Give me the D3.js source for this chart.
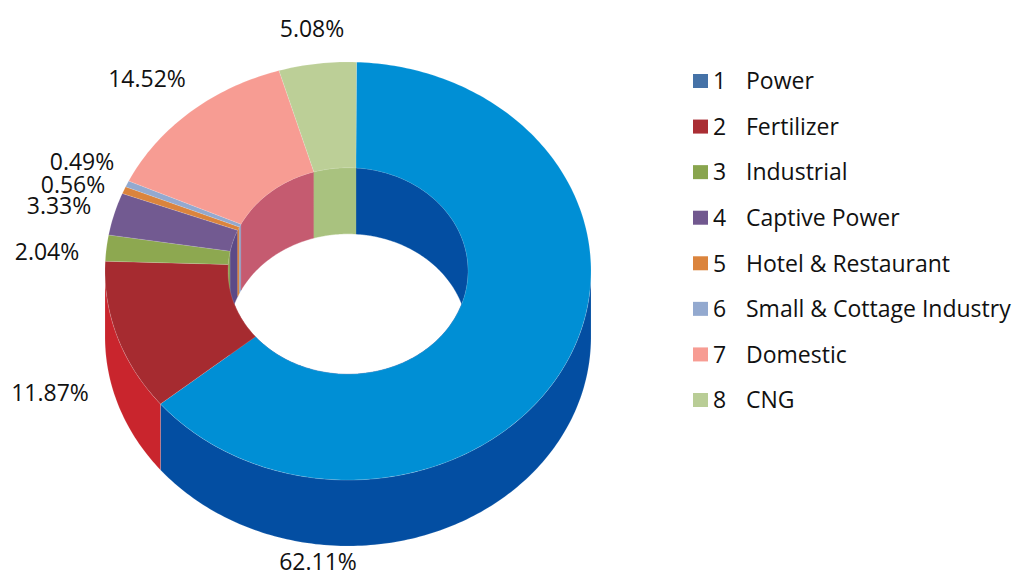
<!DOCTYPE html>
<html>
<head>
<meta charset="utf-8">
<script src="https://cdn.jsdelivr.net/npm/d3@7"></script>
<style>
  html, body { margin: 0; background: #fff; }
  text { font-family: "Open Sans", sans-serif; fill: #111; }
  .face { stroke: #fff; stroke-opacity: 0.25; stroke-width: 0.5; }
</style>
</head>
<body>
<div id="chart"></div>
<script>
const categories = ["Power", "Fertilizer", "Industrial", "Captive Power", "Hotel & Restaurant", "Small & Cottage Industry", "Domestic", "CNG"];
const shares = [62.11, 11.87, 2.04, 3.33, 0.56, 0.49, 14.52, 5.08];
const shareLabels = ["62.11%", "11.87%", "2.04%", "3.33%", "0.56%", "0.49%", "14.52%", "5.08%"];

const topColors = ["#008fd5", "#a62b30", "#8da850", "#725a91", "#db843d", "#93a9cf", "#f79c93", "#bccf97"];
const outerWallColors = ["#034ea2", "#c9252d", "#8da850", "#725a91", "#db843d", "#93a9cf", "#f79c93", "#bccf97"];
const innerWallColors = ["#034ea2", "#a62b30", "#8da850", "#5c4a87", "#db843d", "#93a9cf", "#c55b70", "#a9c27f"];
const legendColors = ["#4572a7", "#aa2e34", "#89a54e", "#71588f", "#db843d", "#93a9cf", "#f79c93", "#b9cd96"];

const width = 1014;
const height = 574;
const cx = 348;
const cy = 271;
const rx = 243;
const ry = 209;
const holeRatio = 120 / 243;
const depth = 66;

// label spots were placed by hand, same order as categories
const labelSpots = [[318, 562], [50, 393], [47, 252], [59, 206], [73, 185], [82, 162], [147, 79], [312, 29]];

// the 3d view squeezes the angles, so share -> angle is not quite linear
const knots = [0, 62.11, 80.4, 94.92, 100];
const outerAngle = d3.scaleLinear().domain(knots).range([2, 230.5, 295.5, 343.5, 362]);
const innerAngle = d3.scaleLinear().domain(knots).range([3.8, 230.5, 297, 343.5, 363.8]);

const svg = d3.select("#chart").append("svg")
  .attr("width", width)
  .attr("height", height)
  .style("display", "block");

function project(deg, radius, drop) {
  const t = deg * Math.PI / 180;
  return [cx + radius * rx * Math.sin(t), cy - radius * ry * Math.cos(t) + drop];
}

function arcPoints(a0, a1, radius, drop) {
  const n = Math.max(2, Math.ceil(Math.abs(a1 - a0)));
  return d3.range(n + 1).map((i) => project(a0 + (a1 - a0) * i / n, radius, drop));
}

const line = d3.line();
function closed(points) {
  return line(points) + "Z";
}

const cum = d3.cumsum(shares);
const slices = shares.map((v, i) => {
  const from = i === 0 ? 0 : cum[i - 1];
  const to = i === shares.length - 1 ? 100 : cum[i];
  return {
    i,
    o0: outerAngle(from),
    o1: outerAngle(to),
    i0: innerAngle(from),
    i1: innerAngle(to),
  };
});

// only the front half of the outer wall can be seen
const frontSlices = slices
  .map((d) => ({ i: d.i, a0: Math.max(d.o0, 90), a1: Math.min(d.o1, 270) }))
  .filter((d) => d.a1 > d.a0);

svg.append("g").selectAll("path")
  .data(frontSlices)
  .join("path")
  .attr("class", "face")
  .attr("d", (d) => closed([...arcPoints(d.a0, d.a1, 1, 0), ...arcPoints(d.a1, d.a0, 1, depth)]))
  .attr("fill", (d) => outerWallColors[d.i]);

svg.append("g").selectAll("path")
  .data(slices)
  .join("path")
  .attr("d", (d) => closed([...arcPoints(d.i0, d.i1, holeRatio, 0), ...arcPoints(d.i1, d.i0, holeRatio, depth)]))
  .attr("fill", (d) => innerWallColors[d.i])
  .attr("stroke", (d) => innerWallColors[d.i])
  .attr("stroke-width", 0.4);

svg.append("g").selectAll("path")
  .data(slices)
  .join("path")
  .attr("class", "face")
  .attr("d", (d) => closed([...arcPoints(d.o0, d.o1, 1, 0), ...arcPoints(d.i1, d.i0, holeRatio, 0)]))
  .attr("fill", (d) => topColors[d.i]);

svg.append("g").selectAll("text")
  .data(shareLabels)
  .join("text")
  .attr("x", (d, i) => labelSpots[i][0])
  .attr("y", (d, i) => labelSpots[i][1])
  .attr("dy", "0.36em")
  .attr("text-anchor", "middle")
  .attr("font-size", 23)
  .text((d) => d);

const legendY = d3.scalePoint().domain(d3.range(categories.length)).range([81, 400]);

const legend = svg.append("g").selectAll("g")
  .data(categories)
  .join("g")
  .attr("transform", (d, i) => `translate(693,${legendY(i)})`);

legend.append("rect")
  .attr("y", -7)
  .attr("width", 15)
  .attr("height", 14)
  .attr("fill", (d, i) => legendColors[i]);

legend.append("text")
  .attr("x", 20)
  .attr("dy", "0.36em")
  .attr("font-size", 23)
  .text((d, i) => i + 1);

legend.append("text")
  .attr("x", 53)
  .attr("dy", "0.36em")
  .attr("font-size", 23)
  .text((d) => d);
</script>
</body>
</html>
